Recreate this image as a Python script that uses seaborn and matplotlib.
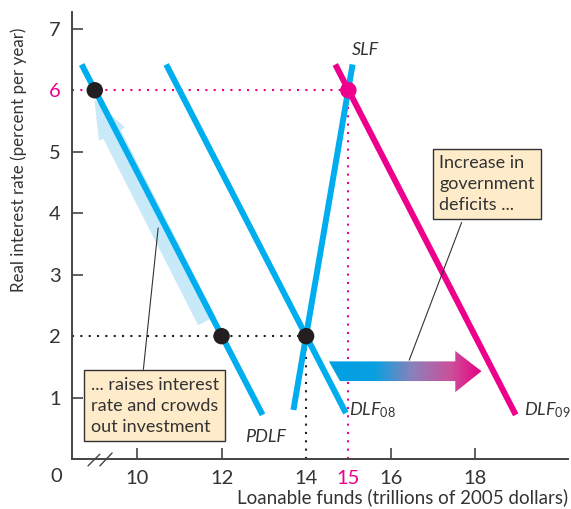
import numpy as np
import pandas as pd
import matplotlib
matplotlib.use("Agg")
import matplotlib.pyplot as plt
from matplotlib.patches import Polygon, FancyArrowPatch
from matplotlib.colors import LinearSegmentedColormap
import seaborn as sns

# curve end points (loanable funds, real interest rate)
pdlf_x = [8.69, 12.97]
pdlf_y = [6.42, 0.72]
dlf08_x = [10.69, 14.94]
dlf08_y = [6.42, 0.75]
dlf09_x = [14.69, 18.96]
dlf09_y = [6.42, 0.72]
slf_x = [13.70, 15.10]
slf_y = [0.80, 6.42]

# equilibrium / reference points
black_pts_x = [9, 12, 14]
black_pts_y = [6, 2, 2]
new_eq_x = [15]
new_eq_y = [6]

x_ticks = [10, 12, 14, 15, 16, 18]
y_ticks = [1, 2, 3, 4, 5, 6, 7]

CYAN = "#00aeef"
MAGENTA = "#ec008c"
LIGHT = "#c7e9f8"
BOX = "#fdebc9"
TXT = "#333333"
DOT = "#231f20"

sns.set_theme(style="white")
plt.rcParams["font.family"] = ["Lato", "DejaVu Sans"]
plt.rcParams["mathtext.fontset"] = "custom"
plt.rcParams["mathtext.it"] = "Lato:italic"
plt.rcParams["mathtext.rm"] = "Lato"

fig = plt.figure(figsize=(5.71, 5.09), dpi=100)
ax = fig.add_axes([0.126, 0.098, 0.869, 0.878])

# dotted guide lines
ax.plot([8.46, new_eq_x[0]], [new_eq_y[0]] * 2, ls=(0, (1, 3)), color=MAGENTA, lw=1.5)
ax.plot([new_eq_x[0]] * 2, [0, new_eq_y[0]], ls=(0, (1, 3)), color=MAGENTA, lw=1.5)
ax.plot([8.46, black_pts_x[2]], [black_pts_y[2]] * 2, ls=(0, (1, 3)), color=DOT, lw=1.5)
ax.plot([black_pts_x[2]] * 2, [0, black_pts_y[2]], ls=(0, (1, 3)), color=DOT, lw=1.5)

# light arrow behind PDLF (crowding out)
ax.add_patch(FancyArrowPatch((11.65, 2.25), (8.99, 5.85),
                             arrowstyle="simple,head_width=21,head_length=28,tail_width=14",
                             mutation_scale=1, shrinkA=0, shrinkB=0,
                             color=LIGHT, lw=0, zorder=2))

for xs, ys, c in [(pdlf_x, pdlf_y, CYAN), (dlf08_x, dlf08_y, CYAN),
                  (slf_x, slf_y, CYAN), (dlf09_x, dlf09_y, MAGENTA)]:
    sns.lineplot(x=xs, y=ys, ax=ax, color=c, lw=4.3, solid_capstyle="butt", zorder=3)

sns.scatterplot(x=black_pts_x, y=black_pts_y, ax=ax, color=DOT, s=140, edgecolor="none", zorder=5)
sns.scatterplot(x=new_eq_x, y=new_eq_y, ax=ax, color=MAGENTA, s=140, edgecolor="none", zorder=5)

# gradient arrow (increase in deficits)
arrow_verts = [(14.54, 1.59), (17.53, 1.59), (17.53, 1.76), (18.15, 1.43),
               (17.53, 1.09), (17.53, 1.27), (14.80, 1.27)]
poly = Polygon(arrow_verts, closed=True, facecolor="none", edgecolor="none")
ax.add_patch(poly)
cmap = LinearSegmentedColormap.from_list(
    "grad", [(0, "#009fe3"), (0.3, "#0aa0e0"), (0.55, "#8d80b9"), (0.8, "#cc4f9c"), (1, "#e6007e")])
im = ax.imshow(np.linspace(0, 1, 256)[None, :], cmap=cmap, aspect="auto",
               extent=[14.54, 18.15, 1.09, 1.76], zorder=4)
im.set_clip_path(poly)

# curve labels
ax.text(15.4, 6.65, "SLF", style="italic", fontsize=13, color=TXT, ha="center", va="center")
ax.text(12.55, 0.36, "PDLF", style="italic", fontsize=13, color=TXT, ha="left", va="center")
ax.text(15.02, 0.8, r"$\mathit{DLF}_{\mathrm{08}}$", fontsize=13, color=TXT, ha="left", va="center")
ax.text(19.15, 0.8, r"$\mathit{DLF}_{\mathrm{09}}$", fontsize=13, color=TXT, ha="left", va="center")

# annotation boxes with leader lines
ax.plot([10.15, 10.50], [1.46, 3.76], color=TXT, lw=0.8, zorder=6)
ax.plot([16.44, 17.68], [1.61, 3.85], color=TXT, lw=0.8, zorder=6)
ax.text(8.9, 1.34, "... raises interest\nrate and crowds\nout investment", fontsize=13,
        color=TXT, ha="left", va="top", linespacing=1.38, zorder=7,
        bbox=dict(boxstyle="square,pad=0.35", fc=BOX, ec=TXT, lw=1))
ax.text(17.15, 4.95, "Increase in\ngovernment\ndeficits ...", fontsize=13,
        color=TXT, ha="left", va="top", linespacing=1.38, zorder=7,
        bbox=dict(boxstyle="square,pad=0.35", fc=BOX, ec=TXT, lw=1))

# axes styling
ax.set_xlim(8.46, 20.2)
ax.set_ylim(0, 7.27)
for s in ["top", "right"]:
    ax.spines[s].set_visible(False)
for s in ["left", "bottom"]:
    ax.spines[s].set_color("#444444")
    ax.spines[s].set_linewidth(1.4)
ax.set_xticks(x_ticks)
ax.set_xticklabels([str(t) for t in x_ticks])
ax.set_yticks(y_ticks)
ax.set_yticklabels([str(t) for t in y_ticks])
ax.tick_params(direction="in", length=8, width=1.2, color="#444444", labelsize=14.5,
               labelcolor=TXT, pad=8)
ax.tick_params(axis="x", bottom=True)
ax.tick_params(axis="y", left=True)
for i, t in enumerate(ax.xaxis.get_major_ticks()):
    if x_ticks[i] in (14, 15):
        t.tick1line.set_visible(False)
    if x_ticks[i] == 15:
        t.label1.set_color(MAGENTA)
for i, t in enumerate(ax.yaxis.get_major_ticks()):
    if y_ticks[i] in (2, 6):
        t.tick1line.set_visible(False)
    if y_ticks[i] == 6:
        t.label1.set_color(MAGENTA)

ax.text(8.1, -0.28, "0", fontsize=14.5, color=TXT, ha="center", va="center", clip_on=False)
# axis break marks
ax.plot([8.84, 9.12], [-0.11, 0.08], color="#444444", lw=1, clip_on=False)
ax.plot([9.12, 9.41], [-0.11, 0.10], color="#444444", lw=1, clip_on=False)

ax.set_ylabel("Real interest rate (percent per year)", fontsize=12.2, color=TXT)
ax.yaxis.set_label_coords(-0.09, 0.67)
ax.text(1.0, -0.085, "Loanable funds (trillions of 2005 dollars)", transform=ax.transAxes,
        fontsize=13.5, color=TXT, ha="right", va="center")

fig.savefig("out.png", dpi=100)
